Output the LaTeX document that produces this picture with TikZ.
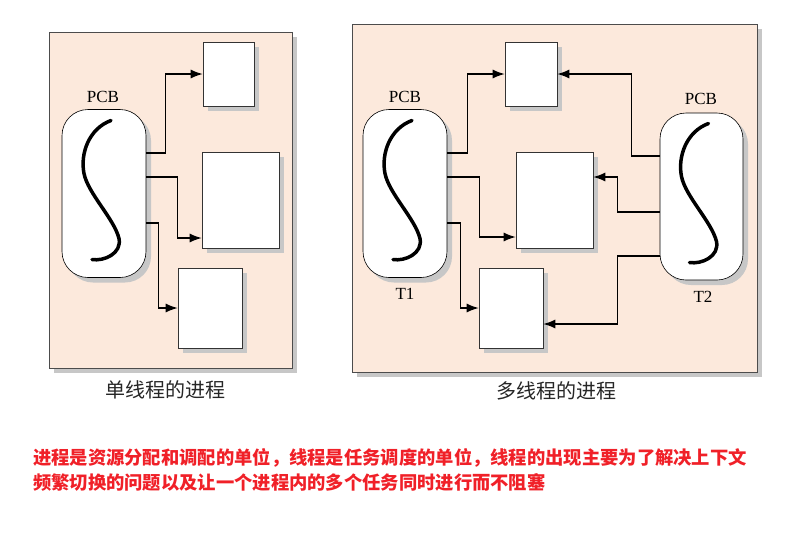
\documentclass[tikz,border=0pt]{standalone}
\usepackage{fontspec}
\setmainfont{Liberation Serif}
\newfontfamily\cjk{Noto Sans CJK SC}
\usetikzlibrary{arrows.meta, shadows}
\definecolor{peach}{RGB}{252,233,220}
\definecolor{notered}{RGB}{240,32,40}
\newcommand{\thread}[1]{\draw[line width=3.5pt, line cap=round, shift={(#1.center)}] (7,-73) .. controls (-15,-65) and (-24,-40) .. (-20,-20) .. controls (-16,0) and (10,25) .. (15,45) .. controls (18,60) and (0,68) .. (-12,66);}

\begin{document}
\begin{tikzpicture}[x=1pt, y=-1pt,
    shadowed/.style={drop shadow={shadow xshift=5pt, shadow yshift=-5pt, fill=black!22, opacity=1}},
    panel/.style={draw=black!70, line width=0.8pt, fill=peach, shadowed},
    pcb/.style={draw, line width=0.6pt, fill=white, rounded corners=26pt, minimum width=84pt, minimum height=168pt, shadowed},
    blk/.style={draw=black!80, line width=0.6pt, fill=white, shadowed},
    arr/.style={line width=1.2pt, -{Latex[length=12pt,width=9pt]}},
    lbl/.style={font=\fontsize{17}{17}\selectfont},
    title/.style={font=\cjk\fontsize{20}{20}\selectfont, text=black!85},
    notetext/.style={font=\cjk\bfseries\fontsize{18.3}{18.3}\selectfont, text=notered, anchor=west, inner sep=0pt}]
    \useasboundingbox (0,0) rectangle (806,539);

    \node[panel, minimum width=243, minimum height=336] (l) at (170.5,200) {};
    \node[panel, minimum width=405, minimum height=348] (r) at (554.5,198) {};

    \node[pcb] (p) at (104,193.5) {};
    \node[blk, minimum width=51, minimum height=64] (a) at (228.5,74) {};
    \node[blk, minimum width=77, minimum height=96] (b) at (240.5,200) {};
    \node[blk, minimum width=64, minimum height=80] (c) at (210,308) {};
    \node[lbl] (pl) at (103,97) {PCB};
    \thread{p}

    \node[pcb] (t) at (405,193.5) {};
    \node[pcb, minimum width=83, minimum height=167] (u) at (701.5,196.5) {};
    \node[blk, minimum width=52, minimum height=64] (d) at (531,74) {};
    \node[blk, minimum width=77, minimum height=96] (e) at (554.5,200) {};
    \node[blk, minimum width=64, minimum height=80] (f) at (511,308) {};
    \node[lbl] (tl) at (405,97) {PCB};
    \node[lbl] (ul) at (701,99) {PCB};
    \node[lbl] (tn) at (405,294) {T1};
    \node[lbl] (un) at (703,297) {T2};
    \thread{t}
    \thread{u}

    \draw[arr] ([yshift=40.5pt]p.east) -| ([xshift=-37pt]a.west) -- (a.west);
    \draw[arr] ([yshift=16.5pt]p.east) -| ([xshift=-24pt,yshift=-38pt]b.west) -- ([yshift=-38pt]b.west);
    \draw[arr] ([yshift=-29.5pt]p.east) -| ([xshift=-19pt]c.west) -- (c.west);

    \draw[arr] ([yshift=40.5pt]t.east) -| ([xshift=-37pt]d.west) -- (d.west);
    \draw[arr] ([yshift=16.5pt]t.east) -| ([xshift=-36pt,yshift=-37pt]e.west) -- ([yshift=-37pt]e.west);
    \draw[arr] ([yshift=-29.5pt]t.east) -| ([xshift=-18pt]f.west) -- (f.west);

    \draw[arr] ([yshift=40.5pt]u.west) -| ([xshift=74pt]d.east) -- (d.east);
    \draw[arr] ([yshift=-15.5pt]u.west) -| ([xshift=24pt,yshift=23pt]e.east) -- ([yshift=23pt]e.east);
    \draw[arr] ([yshift=-59.5pt]u.west) -| ([xshift=74pt,yshift=-16pt]f.east) -- ([yshift=-16pt]f.east);

    \node[title] (lc) at (165,390) {单线程的进程};
    \node[title] (rc) at (556,391) {多线程的进程};

    \node[notetext] (n1) at (33,458) {进程是资源分配和调配的单位，线程是任务调度的单位，线程的出现主要为了解决上下文};
    \node[notetext] (n2) at (33,482) {频繁切换的问题以及让一个进程内的多个任务同时进行而不阻塞};
\end{tikzpicture}
\end{document}
